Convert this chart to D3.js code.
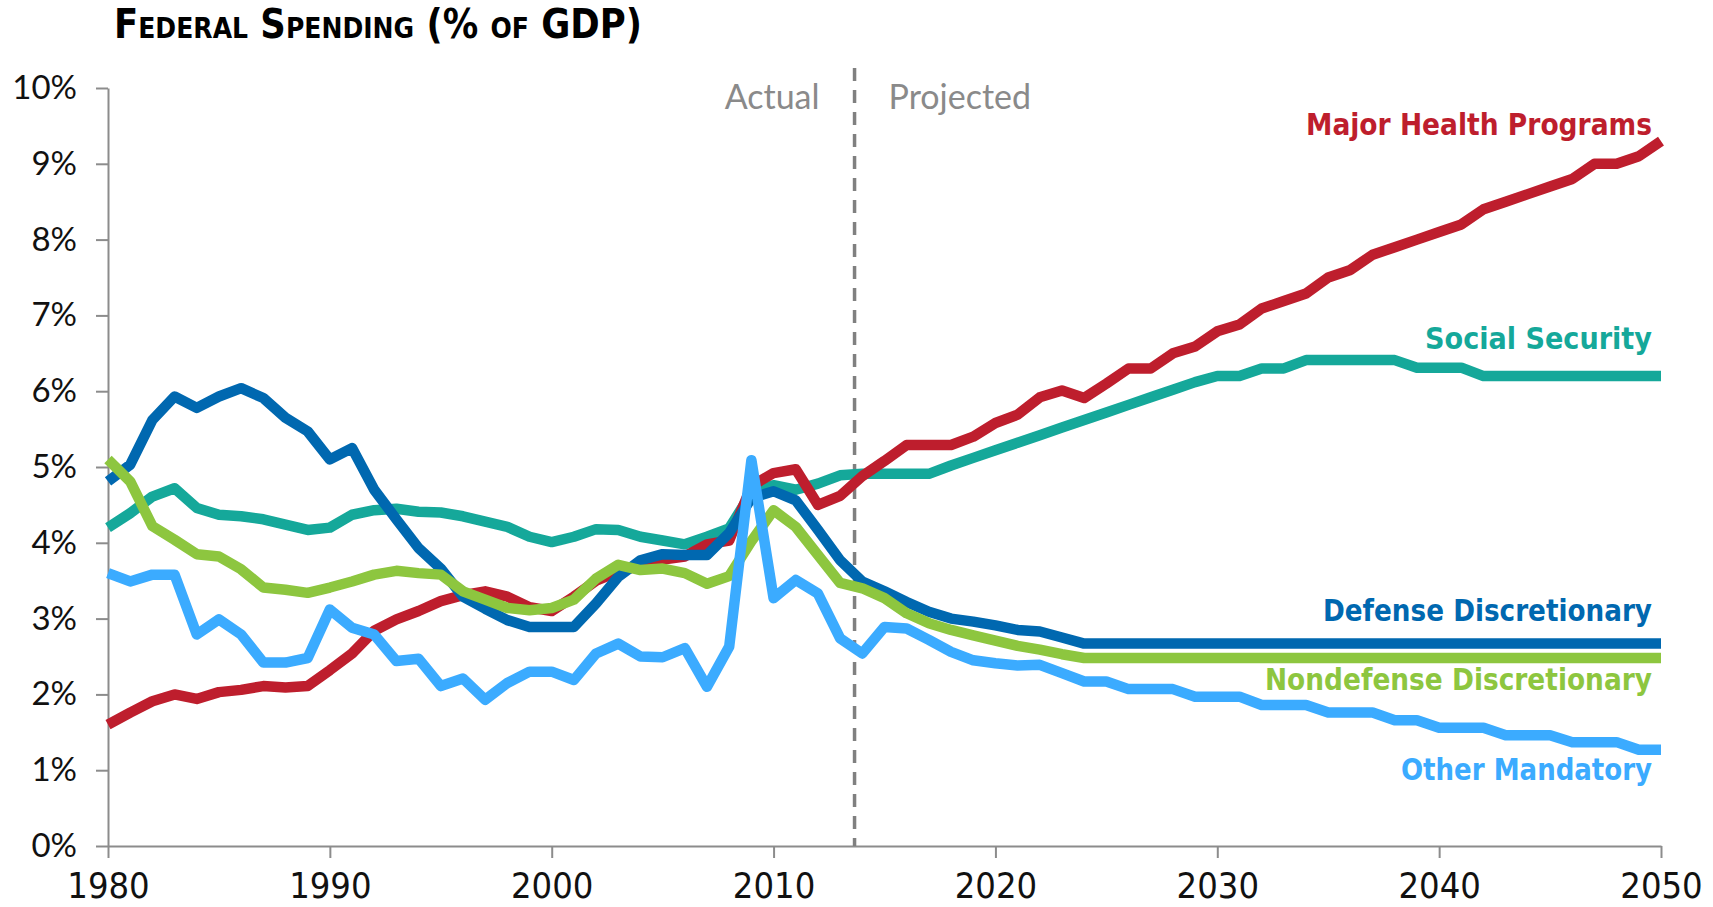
<!DOCTYPE html>
<html lang="en">
<head>
<meta charset="utf-8">
<title>Federal Spending (% of GDP)</title>
<script src="https://cdn.jsdelivr.net/npm/d3@7"></script>
<style>
  body { margin: 0; background: #fff; }
  .axis path, .axis line { stroke: #8c8c8c; stroke-width: 2px; }
  .y-axis text { font-family: Lato, "Noto Sans", sans-serif; font-size: 33px; fill: #111; }
  .x-axis text { font-family: "Liberation Sans Narrow", "DejaVu Sans Condensed", sans-serif; font-size: 36px; fill: #111; }
  .series { fill: none; stroke-width: 10.5px; stroke-linejoin: round; stroke-linecap: butt; }
  .label { font-family: "DejaVu Sans Condensed", "Liberation Sans Narrow", sans-serif; font-weight: bold; font-size: 30px; text-anchor: end; }
  .phase { font-family: Lato, "Noto Sans", sans-serif; font-size: 34px; fill: #8a8a8a; }
</style>
</head>
<body>
<script>
// years 1980..2050, one value per year (% of GDP)
var years = d3.range(1980, 2051);

var health = [1.60,1.76,1.91,2.00,1.94,2.03,2.06,2.11,2.09,2.11,
  2.32,2.54,2.84,2.99,3.10,3.23,3.31,3.36,3.29,3.15,
  3.10,3.29,3.50,3.62,3.70,3.78,3.82,3.98,4.03,4.75,
  4.92,4.97,4.50,4.62,4.88,5.08,5.29,5.29,5.29,5.40,
  5.58,5.69,5.92,6.01,5.91,6.10,6.30,6.30,6.50,6.59,
  6.79,6.88,7.09,7.19,7.29,7.50,7.60,7.80,7.90,8.00,
  8.10,8.20,8.40,8.50,8.60,8.70,8.80,9.00,9.00,9.10,
  9.30];

var socialSecurity = [4.20,4.39,4.61,4.72,4.46,4.37,4.35,4.31,4.24,4.17,
  4.20,4.37,4.43,4.45,4.41,4.40,4.35,4.28,4.21,4.08,
  4.01,4.08,4.18,4.17,4.08,4.03,3.98,4.08,4.19,4.66,
  4.76,4.70,4.78,4.89,4.91,4.91,4.91,4.91,5.02,5.12,
  5.22,5.32,5.42,5.52,5.62,5.72,5.82,5.92,6.02,6.12,
  6.20,6.20,6.30,6.30,6.41,6.41,6.41,6.41,6.41,6.31,
  6.31,6.31,6.20,6.20,6.20,6.20,6.20,6.20,6.20,6.20,
  6.20];

var defense = [4.81,5.03,5.62,5.93,5.78,5.93,6.04,5.91,5.65,5.47,
  5.10,5.25,4.70,4.31,3.93,3.66,3.29,3.13,2.98,2.89,
  2.89,2.89,3.20,3.55,3.77,3.85,3.84,3.84,4.13,4.59,
  4.68,4.56,4.17,3.77,3.49,3.36,3.22,3.09,3.00,2.96,
  2.91,2.85,2.83,2.75,2.67,2.67,2.67,2.67,2.67,2.67,
  2.67,2.67,2.67,2.67,2.67,2.67,2.67,2.67,2.67,2.67,
  2.67,2.67,2.67,2.67,2.67,2.67,2.67,2.67,2.67,2.67,
  2.67];

var nondefense = [5.10,4.81,4.22,4.04,3.85,3.82,3.65,3.41,3.38,3.34,
  3.41,3.49,3.58,3.63,3.60,3.58,3.36,3.25,3.14,3.11,
  3.14,3.25,3.53,3.71,3.64,3.66,3.60,3.46,3.56,4.02,
  4.43,4.21,3.84,3.47,3.40,3.27,3.07,2.94,2.85,2.78,
  2.71,2.64,2.59,2.53,2.48,2.48,2.48,2.48,2.48,2.48,
  2.48,2.48,2.48,2.48,2.48,2.48,2.48,2.48,2.48,2.48,
  2.48,2.48,2.48,2.48,2.48,2.48,2.48,2.48,2.48,2.48,
  2.48];

var otherMandatory = [3.60,3.49,3.58,3.58,2.79,2.99,2.79,2.42,2.42,2.48,
  3.12,2.88,2.79,2.44,2.47,2.11,2.21,1.93,2.15,2.30,
  2.30,2.19,2.54,2.67,2.50,2.49,2.61,2.10,2.63,5.09,
  3.27,3.51,3.33,2.74,2.54,2.89,2.87,2.72,2.56,2.45,
  2.41,2.38,2.39,2.28,2.17,2.17,2.07,2.07,2.07,1.97,
  1.97,1.97,1.86,1.86,1.86,1.76,1.76,1.76,1.66,1.66,
  1.56,1.56,1.56,1.46,1.46,1.46,1.37,1.37,1.37,1.27,
  1.27];

var seriesNames = ["Social Security", "Major Health Programs", "Defense Discretionary", "Nondefense Discretionary", "Other Mandatory"];
var seriesValues = [socialSecurity, health, defense, nondefense, otherMandatory];
var seriesColors = ["#15a89a", "#be1e2d", "#0068b0", "#8dc63f", "#3babff"];

var xTicks = [1980, 1990, 2000, 2010, 2020, 2030, 2040, 2050];
var yTicks = d3.range(0, 11);
var splitYear = 2013.65;   // actual / projected divider

var W = 1713, H = 907;
var margin = {top: 88, right: 52, bottom: 61, left: 108};
var width = W - margin.left - margin.right,
    height = H - margin.top - margin.bottom;

var svg = d3.select("body").append("svg")
    .attr("width", W)
    .attr("height", H);

var g = svg.append("g")
    .attr("transform", "translate(" + margin.left + "," + margin.top + ")");

var x = d3.scaleLinear().domain([1980, 2050]).range([0, width]);
var y = d3.scaleLinear().domain([0, 10]).range([height, 0]);

// title
svg.append("text")
    .attr("x", 114)
    .attr("y", 38)
    .attr("textLength", 528)
    .attr("lengthAdjust", "spacingAndGlyphs")
    .style("font-family", "'DejaVu Sans Condensed', 'Liberation Sans Narrow', sans-serif")
    .style("font-weight", "bold")
    .style("font-size", "41px")
    .style("font-variant", "small-caps")
    .style("fill", "#000")
    .text("Federal Spending (% of GDP)");

// axes
g.append("g")
    .attr("class", "axis y-axis")
    .call(d3.axisLeft(y).tickValues(yTicks).tickSize(12).tickSizeOuter(0).tickPadding(19)
        .tickFormat(function(d) { return d + "%"; }));

g.append("g")
    .attr("class", "axis x-axis")
    .attr("transform", "translate(0," + height + ")")
    .call(d3.axisBottom(x).tickValues(xTicks).tickSize(12).tickSizeOuter(0).tickPadding(14)
        .tickFormat(d3.format("d")));

// divider
g.append("line")
    .attr("x1", x(splitYear)).attr("x2", x(splitYear))
    .attr("y1", 68 - margin.top).attr("y2", height)
    .style("stroke", "#808080")
    .style("stroke-width", 3.5)
    .style("stroke-dasharray", "13,9");

g.append("text")
    .attr("class", "phase")
    .attr("x", x(splitYear) - 35)
    .attr("y", 109 - margin.top)
    .style("text-anchor", "end")
    .text("Actual");

g.append("text")
    .attr("class", "phase")
    .attr("x", x(splitYear) + 34)
    .attr("y", 109 - margin.top)
    .text("Projected");

// lines
var line = d3.line()
    .x(function(d, i) { return x(years[i]); })
    .y(function(d) { return y(d); });

g.selectAll(".series")
    .data(seriesValues)
    .enter().append("path")
    .attr("class", "series")
    .attr("d", line)
    .style("stroke", function(d, i) { return seriesColors[i]; });

// end labels
var labelSpec = [
    {name: "Major Health Programs", color: "#be1e2d", base: 135, w: 346},
    {name: "Social Security", color: "#15a89a", base: 349, w: 227},
    {name: "Defense Discretionary", color: "#0068b0", base: 621, w: 329},
    {name: "Nondefense Discretionary", color: "#8dc63f", base: 690, w: 387},
    {name: "Other Mandatory", color: "#3babff", base: 780, w: 251}
];

svg.selectAll(".label")
    .data(labelSpec)
    .enter().append("text")
    .attr("class", "label")
    .attr("x", 1652)
    .attr("y", function(d) { return d.base; })
    .attr("textLength", function(d) { return d.w; })
    .attr("lengthAdjust", "spacingAndGlyphs")
    .style("fill", function(d) { return d.color; })
    .text(function(d) { return d.name; });
</script>
</body>
</html>
